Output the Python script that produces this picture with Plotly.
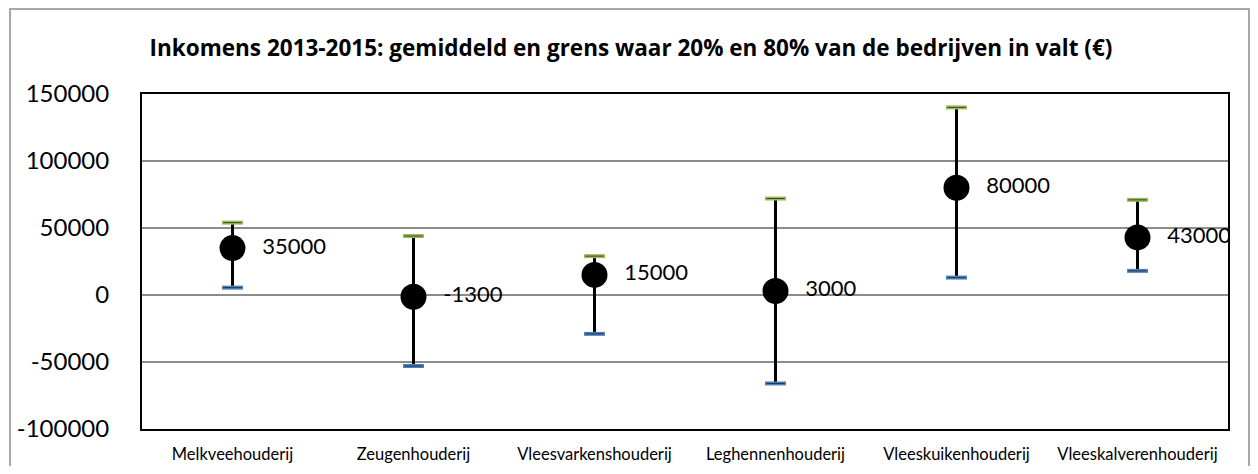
import plotly.graph_objects as go

categories = ["Melkveehouderij", "Zeugenhouderij", "Vleesvarkenshouderij",
              "Leghennenhouderij", "Vleeskuikenhouderij", "Vleeskalverenhouderij"]
gemiddeld = [35000, -1300, 15000, 3000, 80000, 43000]
grens_80 = [54000, 44000, 29000, 72000, 140000, 71000]
grens_20 = [5500, -53000, -29000, -66000, 13000, 18000]
y_ticks = [-100000, -50000, 0, 50000, 100000, 150000]

FONT = "Lato"

fig = go.Figure()

# vertical range lines
lx, ly = [], []
for c, lo, hi in zip(categories, grens_20, grens_80):
    lx += [c, c, None]
    ly += [lo, hi, None]
fig.add_trace(go.Scatter(x=lx, y=ly, mode="lines",
                         line=dict(color="black", width=3), hoverinfo="skip"))

# caps
fig.add_trace(go.Scatter(x=categories, y=grens_80, mode="markers",
                         marker=dict(symbol="line-ew", size=15,
                                     line=dict(color="#9BBB59", width=4))))
fig.add_trace(go.Scatter(x=categories, y=grens_80, mode="markers",
                         marker=dict(symbol="line-ew", size=13,
                                     line=dict(color="#3a4a20", width=1))))
fig.add_trace(go.Scatter(x=categories, y=grens_20, mode="markers",
                         marker=dict(symbol="line-ew", size=15,
                                     line=dict(color="#4F81BD", width=4))))
fig.add_trace(go.Scatter(x=categories, y=grens_20, mode="markers",
                         marker=dict(symbol="line-ew", size=13,
                                     line=dict(color="#1f3350", width=1))))

# means
fig.add_trace(go.Scatter(x=categories, y=gemiddeld, mode="markers",
                         marker=dict(symbol="circle", size=26, color="black")))
# labels (invisible wider marker to offset the text)
fig.add_trace(go.Scatter(x=categories, y=gemiddeld, mode="markers+text",
                         marker=dict(symbol="circle", size=46, color="rgba(0,0,0,0)"),
                         text=[str(v) for v in gemiddeld],
                         textposition="middle right",
                         textfont=dict(family=FONT, size=22, color="black")))

fig.update_layout(
    width=1242, height=458,
    margin=dict(l=134, r=22, t=86, b=37, autoexpand=False),
    paper_bgcolor="white", plot_bgcolor="white",
    showlegend=False,
    font=dict(family=FONT, color="black"),
    title=dict(text="<b>Inkomens 2013-2015: gemiddeld en grens waar 20% en 80% van de bedrijven in valt (€)</b>",
               x=(631 - 8) / 1242, xanchor="center", y=1 - 40 / 458, yanchor="middle",
               font=dict(family="Open Sans", size=22.5, color="black")),
    xaxis=dict(type="category", categoryorder="array", categoryarray=categories,
               range=[-0.5, 5.5], showline=True, linecolor="black", linewidth=2,
               mirror=True, showgrid=False, ticks="", ticklabelstandoff=9,
               automargin=False,
               tickfont=dict(family=FONT, size=16.5, color="black")),
    yaxis=dict(range=[-100000, 150000], tickvals=y_ticks,
               ticktext=[str(v) for v in y_ticks],
               showline=True, linecolor="black", linewidth=2, mirror=True,
               showgrid=True, gridcolor="#8c8c8c", gridwidth=1.5,
               zeroline=True, zerolinecolor="#8c8c8c", zerolinewidth=1.5,
               ticks="", ticklabelstandoff=26, automargin=False,
               tickfont=dict(family=FONT, size=24, color="black")),
    shapes=[dict(type="rect", xref="paper", yref="paper",
                 x0=(10 - 142) / 1086, x1=(1249 - 142) / 1086,
                 y0=(429 - 480) / 335, y1=(429 - 9) / 335,
                 line=dict(color="#8c8c8c", width=1.5), layer="below")],
)

fig.write_html("out.html")
